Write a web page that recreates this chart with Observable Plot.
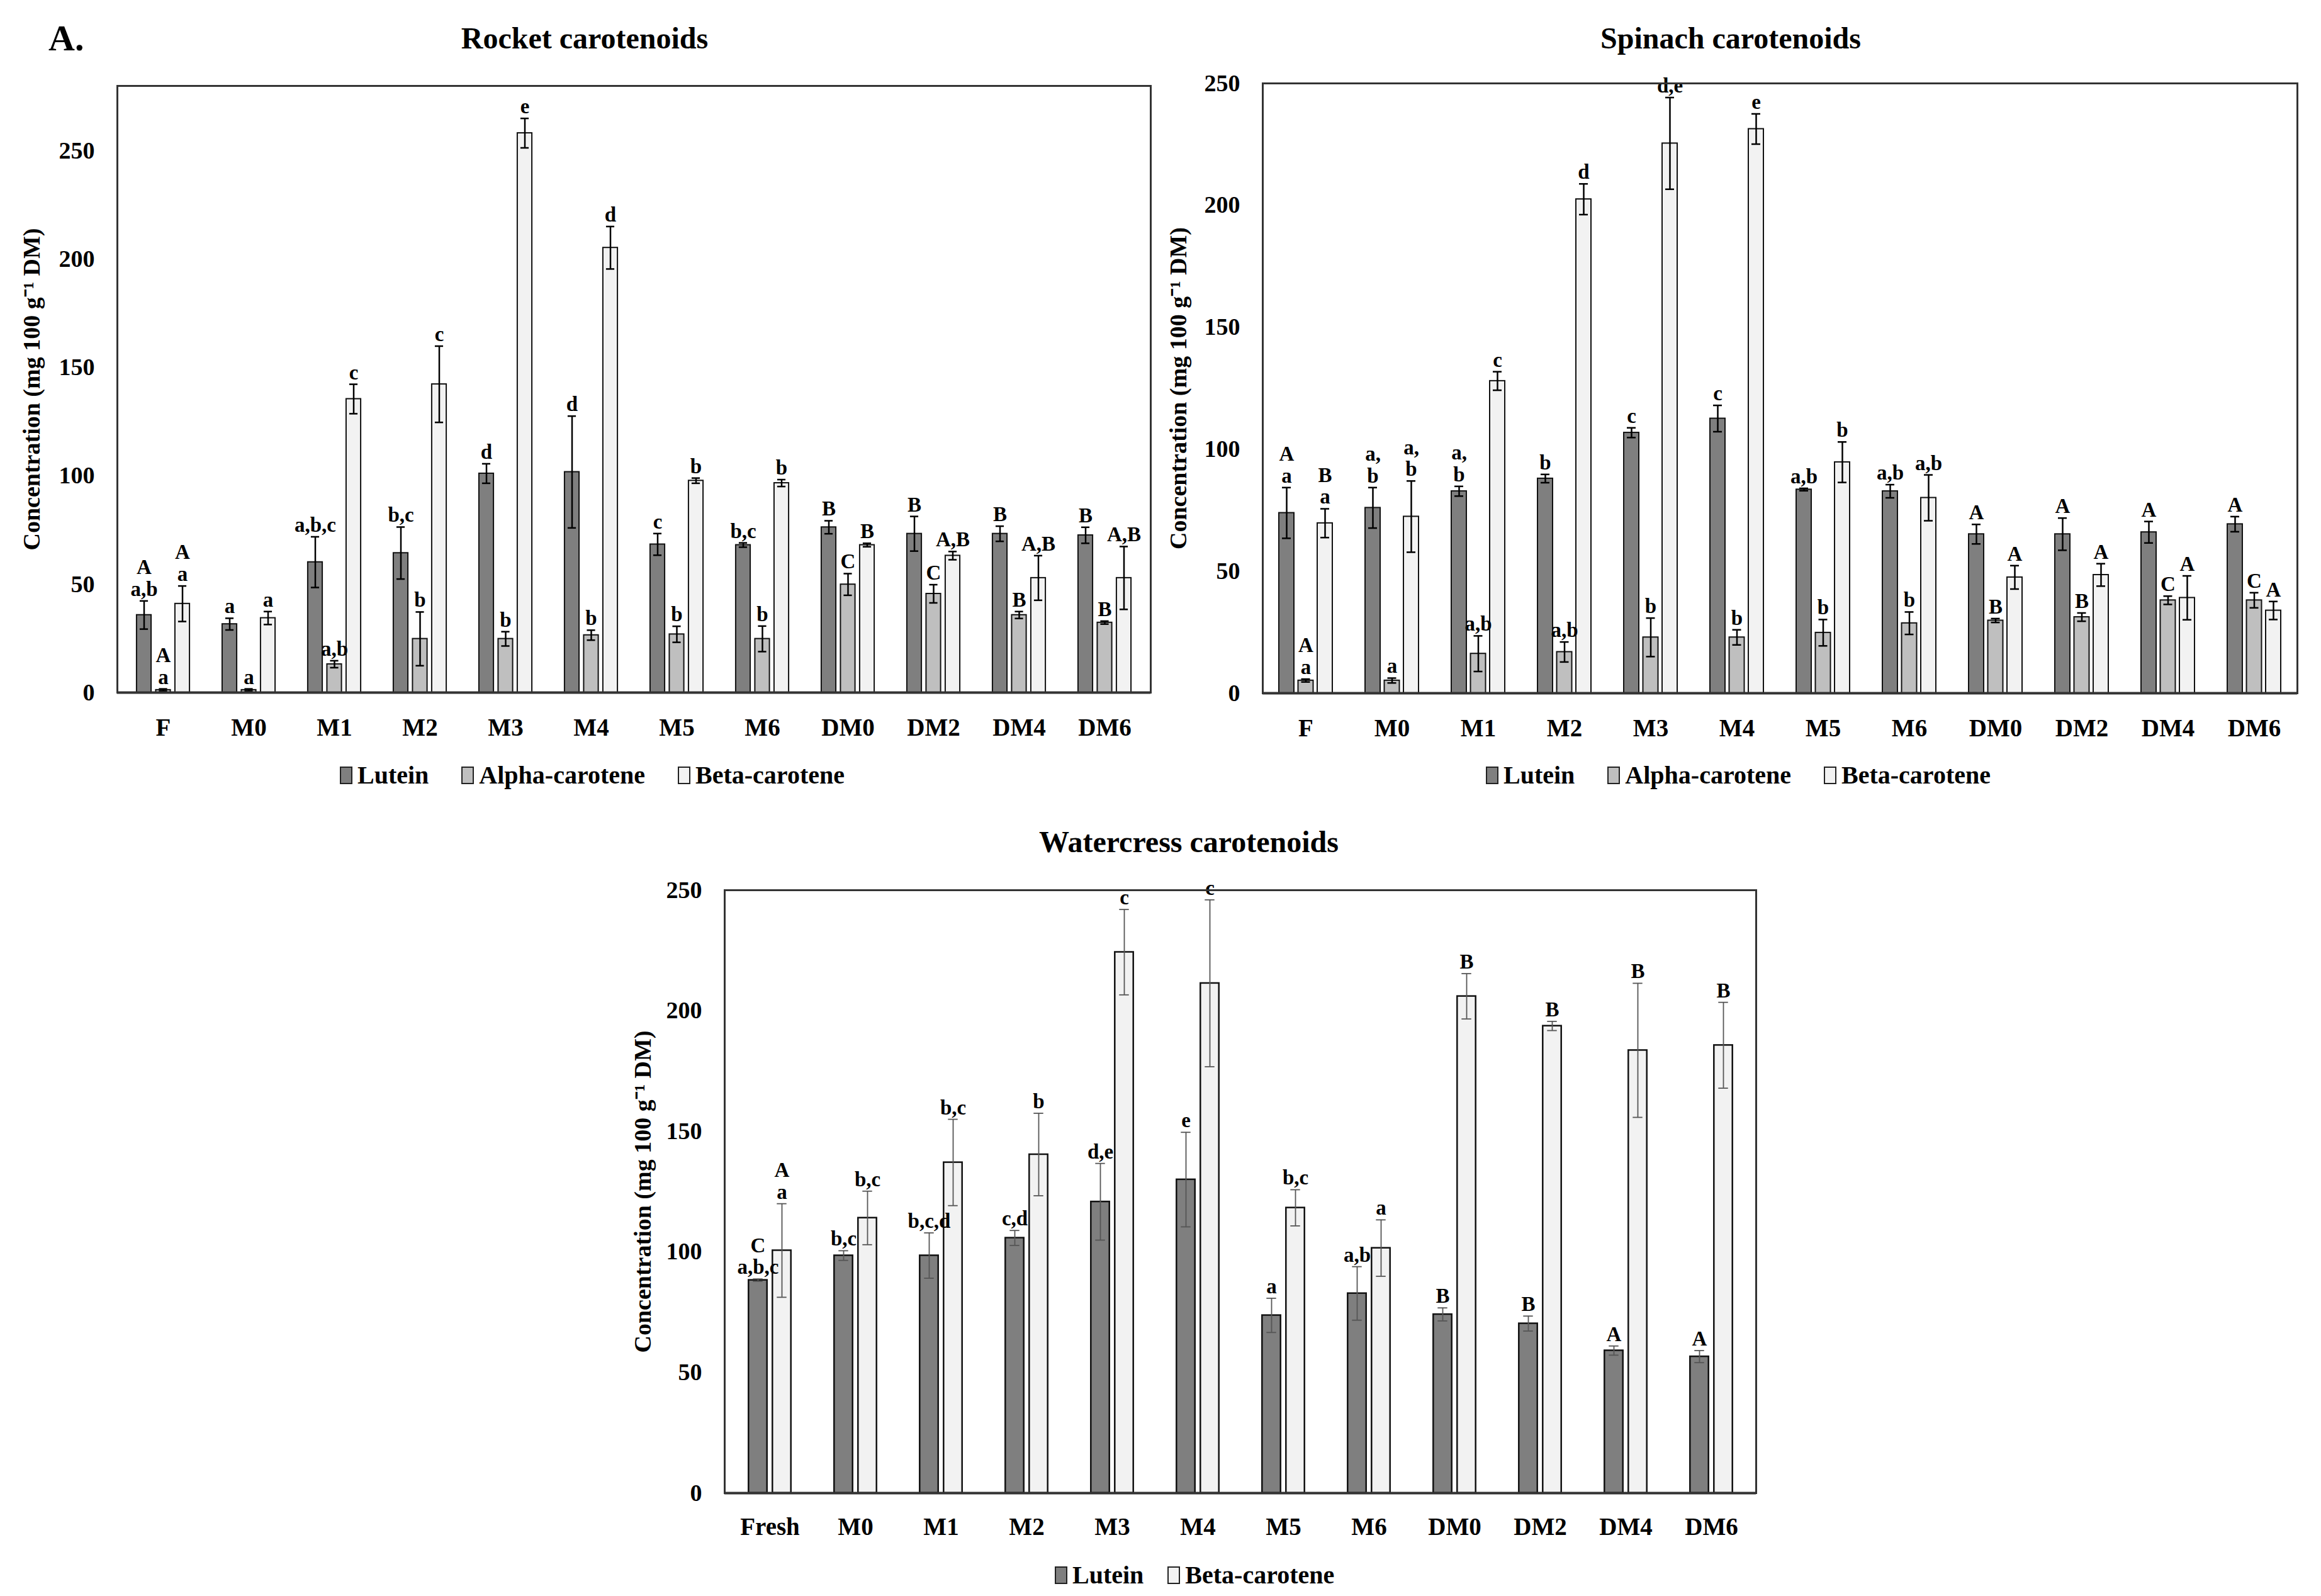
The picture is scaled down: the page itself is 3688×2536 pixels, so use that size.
<!DOCTYPE html>
<html><head><meta charset="utf-8">
<script src="https://cdn.jsdelivr.net/npm/d3@7"></script>
<script src="https://cdn.jsdelivr.net/npm/@observablehq/plot@0.6"></script>
<style>
body{margin:0;background:#fff;}
#page{position:relative;width:3688px;height:2536px;background:#fff;font-family:"Liberation Serif",serif;font-weight:bold;color:#000;overflow:hidden}
.abs{position:absolute}
.title{font-size:48px;line-height:48px;white-space:nowrap;transform:translateX(-50%)}
.legend{display:flex;align-items:center;gap:50px;font-size:40px;line-height:40px;white-space:nowrap}
.item{display:flex;align-items:center;gap:8px}
.sw{width:16px;height:24px;border:2px solid #222}
svg{position:absolute}
</style></head><body><div id="page"></div>
<script>
// ---------- data ----------
const yTicks = [0, 50, 100, 150, 200, 250];
const yLabel = "Concentration (mg 100 g\u207B\u00B9 DM)";

const rocketCategories = ["F","M0","M1","M2","M3","M4","M5","M6","DM0","DM2","DM4","DM6"];
const rocketSeries = ["Lutein","Alpha-carotene","Beta-carotene"];
const rocketLutein = [35.8, 31.6, 60.2, 64.4, 101.1, 101.8, 68.4, 68.1, 76.3, 73.3, 73.3, 72.6];
const rocketLuteinErr = [6.5, 2.7, 11.7, 12.0, 4.5, 25.8, 5.0, 1.0, 3.0, 8.0, 3.5, 3.7];
const rocketLuteinLetters = ["A\na,b","a","a,b,c","b,c","d","d","c","b,c","B","B","B","B"];
const rocketAlpha = [1.2, 1.2, 13.1, 24.8, 24.8, 26.5, 26.9, 24.8, 49.9, 45.6, 35.8, 32.3];
const rocketAlphaErr = [0.5, 0.5, 1.6, 12.4, 3.3, 2.3, 3.7, 5.9, 5.0, 4.2, 1.6, 0.7];
const rocketAlphaLetters = ["A\na","a","a,b","b","b","b","b","b","C","C","B","B"];
const rocketBeta = [41.0, 34.4, 135.5, 142.3, 258.2, 205.3, 97.8, 96.7, 68.1, 63.2, 52.9, 52.9];
const rocketBetaErr = [8.2, 3.0, 6.8, 17.6, 6.8, 9.8, 1.2, 1.6, 0.8, 1.9, 10.3, 14.5];
const rocketBetaLetters = ["A\na","a","c","c","e","d","b","b","B","A,B","A,B","A,B"];

const spinachCategories = ["F","M0","M1","M2","M3","M4","M5","M6","DM0","DM2","DM4","DM6"];
const spinachSeries = ["Lutein","Alpha-carotene","Beta-carotene"];
const spinachLutein = [73.9, 76.0, 82.8, 88.0, 106.8, 112.6, 83.5, 82.8, 65.2, 65.2, 66.0, 69.3];
const spinachLuteinErr = [10.4, 8.3, 2.0, 1.7, 2.0, 5.4, 0.5, 2.7, 4.0, 6.6, 4.4, 3.1];
const spinachLuteinLetters = ["A\na","a,\nb","a,\nb","b","c","c","a,b","a,b","A","A","A","A"];
const spinachAlpha = [5.2, 5.2, 16.2, 16.9, 22.9, 22.9, 24.8, 28.7, 29.8, 31.2, 38.1, 38.1];
const spinachAlphaErr = [0.6, 1.0, 7.3, 4.1, 7.9, 3.1, 5.4, 4.6, 0.8, 1.7, 1.7, 3.1];
const spinachAlphaLetters = ["A\na","a","a,b","a,b","b","b","b","b","B","B","C","C"];
const spinachBeta = [69.7, 72.4, 128.0, 202.5, 225.4, 231.3, 94.7, 80.1, 47.5, 48.5, 39.1, 33.9];
const spinachBetaErr = [5.9, 14.6, 3.8, 6.3, 18.8, 6.2, 8.3, 9.4, 4.8, 4.6, 9.0, 3.7];
const spinachBetaLetters = ["B\na","a,\nb","c","d","d,e","e","b","a,b","A","A","A","A"];

const watercressCategories = ["Fresh","M0","M1","M2","M3","M4","M5","M6","DM0","DM2","DM4","DM6"];
const watercressSeries = ["Lutein","Beta-carotene"];
const watercressLutein = [88.3, 98.5, 98.5, 105.8, 120.8, 130.0, 73.7, 82.8, 74.1, 70.3, 59.1, 56.6];
const watercressLuteinErr = [0.5, 2.0, 9.4, 3.1, 15.9, 19.6, 7.1, 11.1, 2.7, 3.1, 1.9, 2.5];
const watercressLuteinLetters = ["C\na,b,c","b,c","b,c,d","c,d","d,e","e","a","a,b","B","B","A","A"];
const watercressBeta = [100.6, 114.1, 137.1, 140.4, 224.3, 211.4, 118.3, 101.6, 206.0, 193.7, 183.6, 185.7];
const watercressBetaErr = [19.4, 11.1, 17.9, 17.1, 17.7, 34.6, 7.5, 11.7, 9.4, 1.9, 27.8, 17.8];
const watercressBetaLetters = ["A\na","b,c","b,c","b","c","c","b,c","a","B","B","B","B"];

const seriesColors = {"Lutein": "#7f7f7f", "Alpha-carotene": "#bfbfbf", "Beta-carotene": "#f2f2f2"};

// ---------- drawing ----------
const page = document.getElementById("page");

function chart(o) {
  const n = o.cats.length;
  const plotW = o.W - o.mL - o.mR;
  const bw = plotW / n;
  const inset = (bw - o.barW) / 2;
  const capInset = (bw - o.capW) / 2;
  const marks = [];
  const datasets = o.names.map((name, i) => o.cats.map((c, j) => ({
    cat: c, series: name, v: o.vals[i][j], e: o.errs[i][j], l: o.letters[i][j]
  })));
  datasets.forEach((d, i) => {
    const off = (i - (o.names.length - 1) / 2) * o.step;
    marks.push(Plot.barY(d, {x: "cat", y: "v", fill: "series", stroke: "#111", strokeWidth: o.barStroke,
      insetLeft: inset, insetRight: inset, dx: off}));
  });
  datasets.forEach((d, i) => {
    const off = (i - (o.names.length - 1) / 2) * o.step;
    marks.push(Plot.ruleX(d, {x: "cat", y1: r => r.v - r.e, y2: r => r.v + r.e, dx: off,
      stroke: o.errStroke, strokeWidth: o.errWidth}));
    marks.push(Plot.tickY(d, {x: "cat", y: r => r.v + r.e, dx: off, insetLeft: capInset, insetRight: capInset,
      stroke: o.errStroke, strokeWidth: o.errWidth}));
    marks.push(Plot.tickY(d, {x: "cat", y: r => r.v - r.e, dx: off, insetLeft: capInset, insetRight: capInset,
      stroke: o.errStroke, strokeWidth: o.errWidth}));
    marks.push(Plot.text(d, {x: "cat", y: r => r.v + r.e, text: "l", dx: off, dy: -8, lineAnchor: "bottom",
      fontSize: 33, fontWeight: "bold", lineHeight: 1.05, fill: "#000"}));
  });
  marks.push(Plot.frame({stroke: "#333", strokeWidth: 3}));
  marks.push(Plot.ruleY([0], {stroke: "#333", strokeWidth: 4}));
  marks.push(Plot.axisX({tickSize: 0, tickPadding: o.xPad, fontSize: 39, label: null}));
  marks.push(Plot.axisY({ticks: yTicks, tickSize: 0, tickPadding: 36, fontSize: 38,
    label: yLabel, labelAnchor: "center", labelOffset: o.labelOffset, labelArrow: "none"}));
  const svg = Plot.plot({
    width: o.W, height: o.H,
    marginLeft: o.mL, marginRight: o.mR, marginTop: o.mT, marginBottom: o.mB,
    x: {domain: o.cats, padding: 0},
    y: {domain: [0, o.yMax]},
    color: {domain: o.names, range: o.names.map(s => seriesColors[s])},
    style: {fontFamily: "Liberation Serif", fontWeight: "bold", fontSize: "38px", color: "#000", background: "transparent", overflow: "visible"},
    marks
  });
  svg.style.left = o.left + "px";
  svg.style.top = o.top + "px";
  page.appendChild(svg);
}

function title(text, cx, top) {
  const d = document.createElement("div");
  d.className = "abs title";
  d.style.left = cx + "px"; d.style.top = top + "px";
  d.textContent = text;
  page.appendChild(d);
}
function legend(names, left, top, gap) {
  const d = document.createElement("div");
  d.className = "abs legend";
  d.style.left = left + "px"; d.style.top = top + "px"; d.style.gap = gap + "px";
  names.forEach(nm => {
    const it = document.createElement("div"); it.className = "item";
    const sw = document.createElement("div"); sw.className = "sw"; sw.style.background = seriesColors[nm];
    const tx = document.createElement("span"); tx.textContent = nm;
    it.appendChild(sw); it.appendChild(tx); d.appendChild(it);
  });
  page.appendChild(d);
}

const panel = document.createElement("div");
panel.className = "abs"; panel.style.left = "77px"; panel.style.top = "32px";
panel.style.fontSize = "58px"; panel.style.lineHeight = "58px"; panel.textContent = "A.";
page.appendChild(panel);

chart({cats: rocketCategories, names: rocketSeries,
  vals: [rocketLutein, rocketAlpha, rocketBeta], errs: [rocketLuteinErr, rocketAlphaErr, rocketBetaErr],
  letters: [rocketLuteinLetters, rocketAlphaLetters, rocketBetaLetters],
  yMax: 280, W: 1850, H: 1200, mL: 186, mR: 22, mT: 136, mB: 100, left: 0, top: 0,
  barW: 24, step: 30.5, capW: 14, barStroke: 2, errStroke: "#000", errWidth: 2.5, xPad: 41, labelOffset: 150});
title("Rocket carotenoids", 929, 37);
legend(rocketSeries, 540, 1212, 52);

chart({cats: spinachCategories, names: spinachSeries,
  vals: [spinachLutein, spinachAlpha, spinachBeta], errs: [spinachLuteinErr, spinachAlphaErr, spinachBetaErr],
  letters: [spinachLuteinLetters, spinachAlphaLetters, spinachBetaLetters],
  yMax: 250, W: 1848, H: 1200, mL: 166, mR: 38, mT: 132, mB: 99, left: 1840, top: 0,
  barW: 24, step: 30.5, capW: 14, barStroke: 2, errStroke: "#000", errWidth: 2.5, xPad: 41, labelOffset: 148});
title("Spinach carotenoids", 2750, 37);
legend(spinachSeries, 2361, 1212, 52);

chart({cats: watercressCategories, names: watercressSeries,
  vals: [watercressLutein, watercressBeta], errs: [watercressLuteinErr, watercressBetaErr],
  letters: [watercressLuteinLetters, watercressBetaLetters],
  yMax: 250, W: 1900, H: 1256, mL: 201, mR: 60, mT: 134, mB: 164, left: 950, top: 1280,
  barW: 30, step: 38, capW: 16, barStroke: 2.5, errStroke: "#555", errWidth: 1.8, xPad: 39, labelOffset: 144});
title("Watercress carotenoids", 1889, 1314);
legend(watercressSeries, 1676, 2483, 38);
</script></body></html>
